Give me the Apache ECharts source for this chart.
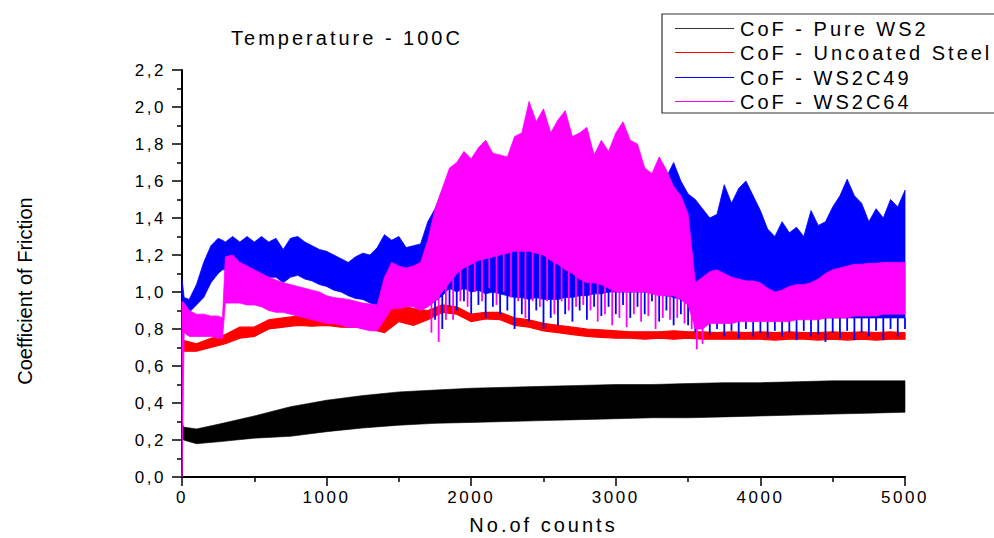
<!DOCTYPE html>
<html>
<head>
<meta charset="utf-8">
<script src="https://cdn.jsdelivr.net/npm/echarts/dist/echarts.min.js"></script>
<style>
  html, body { margin: 0; padding: 0; background: #fff; }
  #chart { width: 994px; height: 538px; }
  #chart svg text { letter-spacing: 0.15em; }
  #chart svg text[style*="sans-serif"] { letter-spacing: 0; }
</style>
</head>
<body>
<div id="chart"></div>
<script>
// ---------- data ----------
const seriesNames = ['CoF - Pure WS2', 'CoF - Uncoated Steel', 'CoF - WS2C49', 'CoF - WS2C64'];

const blackCounts = [0, 10, 100, 250, 500, 750, 1000, 1250, 1500, 1750, 2000, 2250, 2500, 2750, 3000, 3250, 3500, 3750, 4000, 4250, 4500, 4750, 5000];
const blackHi = [0.31, 0.27, 0.26, 0.285, 0.33, 0.38, 0.415, 0.44, 0.46, 0.47, 0.48, 0.485, 0.49, 0.495, 0.50, 0.50, 0.505, 0.51, 0.51, 0.515, 0.52, 0.52, 0.52];
const blackLo = [0.21, 0.20, 0.18, 0.19, 0.21, 0.22, 0.245, 0.265, 0.28, 0.29, 0.295, 0.30, 0.305, 0.31, 0.315, 0.32, 0.32, 0.325, 0.33, 0.335, 0.34, 0.345, 0.35];

const redCounts = [0, 100, 200, 300, 400, 500, 600, 700, 800, 900,
  1000, 1100, 1200, 1300, 1400, 1500, 1600, 1700, 1800, 1900,
  2000, 2100, 2200, 2300, 2400, 2500, 2600, 2700, 2800, 2900,
  3000, 3100, 3200, 3300, 3400, 3500, 3600, 3700, 3800, 3900,
  4000, 4100, 4200, 4300, 4400, 4500, 4600, 4700, 4800, 4900, 5000];
const redHi = [0.74, 0.72, 0.75, 0.77, 0.81, 0.81, 0.85, 0.86, 0.87, 0.86,
  0.85, 0.84, 0.84, 0.83, 0.90, 0.93, 0.91, 0.90, 0.93, 0.92,
  0.88, 0.89, 0.89, 0.86, 0.85, 0.83, 0.82, 0.81, 0.80, 0.795,
  0.79, 0.785, 0.785, 0.785, 0.79, 0.785, 0.785, 0.78, 0.785, 0.78,
  0.785, 0.78, 0.785, 0.78, 0.78, 0.785, 0.78, 0.785, 0.78, 0.785, 0.78];
const redLo = [0.68, 0.68, 0.70, 0.72, 0.75, 0.76, 0.80, 0.81, 0.82, 0.815,
  0.82, 0.81, 0.81, 0.80, 0.78, 0.84, 0.82, 0.85, 0.89, 0.88,
  0.84, 0.855, 0.85, 0.82, 0.81, 0.79, 0.78, 0.77, 0.76, 0.755,
  0.75, 0.75, 0.745, 0.75, 0.745, 0.75, 0.745, 0.745, 0.745, 0.745,
  0.745, 0.74, 0.745, 0.745, 0.74, 0.745, 0.74, 0.745, 0.74, 0.745, 0.745];

const fineCounts = [0, 15, 50, 100, 150, 200, 250, 280, 300, 350,
  400, 450, 500, 550, 600, 650, 700, 750, 800, 850,
  900, 950, 1000, 1050, 1100, 1150, 1200, 1250, 1300, 1350,
  1400, 1450, 1500, 1550, 1600, 1650, 1700, 1750, 1800, 1850,
  1900, 1950, 2000, 2050, 2100, 2150, 2200, 2250, 2300, 2350,
  2400, 2450, 2500, 2550, 2600, 2650, 2700, 2750, 2800, 2850,
  2900, 2950, 3000, 3050, 3100, 3150, 3200, 3250, 3300, 3350,
  3400, 3450, 3500, 3550, 3600, 3650, 3700, 3750, 3800, 3850,
  3900, 3950, 4000, 4050, 4100, 4150, 4200, 4250, 4300, 4350,
  4400, 4450, 4500, 4550, 4600, 4650, 4700, 4750, 4800, 4850,
  4900, 4950, 5000];

// WS2C49: upper edge and lower (solid) edge of the band
const blueHi = [1.07, 0.97, 0.96, 1.04, 1.16, 1.25, 1.29, 1.28, 1.27, 1.30,
  1.27, 1.30, 1.27, 1.30, 1.27, 1.29, 1.23, 1.29, 1.30, 1.27,
  1.25, 1.23, 1.22, 1.20, 1.18, 1.16, 1.19, 1.21, 1.20, 1.24,
  1.31, 1.28, 1.30, 1.24, 1.25, 1.26, 1.38, 1.45, 1.55, 1.58,
  1.55, 1.52, 1.55, 1.50, 1.55, 1.52, 1.50, 1.55, 1.52, 1.55,
  1.50, 1.55, 1.52, 1.55, 1.50, 1.55, 1.52, 1.55, 1.50, 1.55,
  1.52, 1.55, 1.50, 1.55, 1.52, 1.55, 1.52, 1.55, 1.56, 1.62,
  1.70, 1.60, 1.53, 1.50, 1.45, 1.40, 1.42, 1.58, 1.48, 1.56,
  1.60, 1.52, 1.44, 1.34, 1.30, 1.38, 1.32, 1.35, 1.30, 1.44,
  1.36, 1.38, 1.46, 1.52, 1.61, 1.52, 1.48, 1.38, 1.45, 1.40,
  1.50, 1.46, 1.55];
const blueLo = [0.60, 0.90, 0.89, 0.93, 0.97, 1.05, 1.10, 1.12, 1.12, 1.13,
  1.12, 1.12, 1.10, 1.10, 1.08, 1.08, 1.05, 1.08, 1.09, 1.07,
  1.06, 1.04, 1.03, 1.01, 1.00, 0.98, 0.965, 0.96, 0.94, 0.93,
  1.05, 1.05, 1.05, 1.05, 1.05, 1.05, 0.97, 0.95, 0.98, 1.02,
  1.00, 1.02, 1.00, 1.01, 0.99, 1.00, 0.99, 0.98, 0.97, 0.97,
  0.96, 0.97, 0.96, 0.96, 0.96, 0.97, 0.97, 0.98, 0.98, 0.99,
  0.99, 1.00, 1.00, 1.00, 1.00, 1.00, 1.00, 1.00, 0.99, 0.98,
  0.97, 0.96, 0.93, 0.88, 0.86, 0.86, 0.86, 0.86, 0.86, 0.86,
  0.86, 0.86, 0.86, 0.86, 0.86, 0.86, 0.86, 0.86, 0.86, 0.86,
  0.86, 0.86, 0.86, 0.86, 0.86, 0.86, 0.86, 0.86, 0.86, 0.86,
  0.86, 0.86, 0.86];
// WS2C49: tips of the downward spikes
const blueSpikeCounts = [1700, 1750, 1800, 1850, 1900, 1950, 2000, 2050, 2100, 2150,
  2200, 2250, 2300, 2350, 2400, 2450, 2500, 2550, 2600, 2650,
  2700, 2750, 2800, 2850, 2900, 2950, 3000, 3050, 3100, 3150,
  3200, 3250, 3300, 3350, 3400, 3450, 3500, 3550, 3600, 3650,
  3700, 3750, 3800, 3850, 3900, 3950, 4000, 4050, 4100, 4150,
  4200, 4250, 4300, 4350, 4400, 4450, 4500, 4550, 4600, 4650,
  4700, 4750, 4800, 4850, 4900, 4950, 5000];
const blueSpikeLo = [0.93, 0.85, 0.80, 0.92, 0.90, 0.95, 0.88, 0.93, 0.86, 0.92,
  0.88, 0.90, 0.80, 0.88, 0.84, 0.90, 0.80, 0.86, 0.82, 0.88,
  0.84, 0.90, 0.85, 0.92, 0.87, 0.92, 0.88, 0.93, 0.86, 0.92,
  0.88, 0.95, 0.84, 0.90, 0.82, 0.88, 0.82, 0.78, 0.80, 0.77,
  0.80, 0.76, 0.79, 0.75, 0.80, 0.76, 0.78, 0.75, 0.79, 0.76,
  0.78, 0.74, 0.79, 0.76, 0.77, 0.73, 0.78, 0.75, 0.79, 0.74,
  0.78, 0.76, 0.79, 0.74, 0.80, 0.76, 0.80];

// WS2C64: upper edge and lower (solid) edge of the band
const magentaHi = [0.95, 0.94, 0.90, 0.88, 0.88, 0.87, 0.87, 0.86, 1.19, 1.20,
  1.16, 1.14, 1.12, 1.10, 1.08, 1.065, 1.05, 1.04, 1.03, 1.02,
  1.01, 1.00, 0.98, 0.97, 0.965, 0.96, 0.95, 0.94, 0.935, 0.93,
  1.08, 1.16, 1.14, 1.13, 1.14, 1.16, 1.28, 1.45, 1.56, 1.67,
  1.70, 1.76, 1.72, 1.78, 1.82, 1.75, 1.74, 1.73, 1.84, 1.86,
  2.03, 1.92, 1.99, 1.86, 1.93, 1.98, 1.84, 1.86, 1.89, 1.74,
  1.82, 1.76, 1.86, 1.92, 1.82, 1.80, 1.67, 1.64, 1.73, 1.66,
  1.57, 1.52, 1.42, 1.05, 1.08, 1.11, 1.12, 1.10, 1.08, 1.07,
  1.06, 1.06, 1.05, 1.02, 1.00, 1.01, 1.03, 1.04, 1.04, 1.05,
  1.07, 1.10, 1.12, 1.13, 1.14, 1.15, 1.15, 1.155, 1.155, 1.16,
  1.16, 1.16, 1.16];
const magentaLo = [0.00, 0.78, 0.76, 0.76, 0.76, 0.76, 0.75, 0.75, 0.94, 0.94,
  0.94, 0.93, 0.93, 0.92, 0.90, 0.89, 0.89, 0.88, 0.87, 0.86,
  0.85, 0.84, 0.83, 0.83, 0.82, 0.81, 0.81, 0.80, 0.79, 0.79,
  0.85, 0.91, 0.91, 0.92, 0.92, 0.90, 0.92, 0.95, 1.00, 1.05,
  1.10, 1.13, 1.15, 1.17, 1.18, 1.19, 1.20, 1.21, 1.22, 1.22,
  1.22, 1.21, 1.20, 1.17, 1.15, 1.12, 1.10, 1.07, 1.05, 1.05,
  1.04, 1.02, 1.00, 1.00, 1.00, 1.00, 1.00, 0.99, 0.98, 0.98,
  0.98, 0.96, 0.93, 0.80, 0.80, 0.83, 0.83, 0.83, 0.83, 0.84,
  0.84, 0.84, 0.84, 0.84, 0.84, 0.84, 0.84, 0.85, 0.85, 0.85,
  0.85, 0.86, 0.86, 0.86, 0.86, 0.87, 0.87, 0.87, 0.87, 0.88,
  0.88, 0.88, 0.88];
// WS2C64: tips of the downward spikes
const magentaSpikeCounts = [1725, 1775, 1825, 1875, 1925, 1975, 2025, 2075, 2125, 2175,
  2225, 2275, 2325, 2375, 2425, 2475, 2525, 2575, 2625, 2675,
  2725, 2775, 2825, 2875, 2925, 2975, 3025, 3075, 3125, 3175,
  3225, 3275, 3325, 3375, 3425, 3475, 3525, 3560, 3600];
const magentaSpikeLo = [0.78, 0.73, 0.85, 0.85, 0.95, 0.92, 1.00, 0.95, 1.02, 0.93,
  1.00, 0.97, 0.95, 0.86, 0.95, 0.92, 0.95, 0.88, 0.95, 0.90,
  0.92, 0.93, 0.90, 0.84, 0.88, 0.82, 0.86, 0.81, 0.88, 0.84,
  0.87, 0.80, 0.86, 0.85, 0.86, 0.83, 0.80, 0.69, 0.72];

const yTickValues = [0, 0.2, 0.4, 0.6, 0.8, 1.0, 1.2, 1.4, 1.6, 1.8, 2.0, 2.2];
const xTickValues = [0, 1000, 2000, 3000, 4000, 5000];

// ---------- chart ----------
const FONT = "'Liberation Sans', Arimo";
const colors = ['#000000', '#ff0000', '#0000ff', '#ff00ff'];

function band(name, color, xs, hi, lo, strokeW, spikeXs, spikeLo) {
  return {
    type: 'custom',
    name: name,
    coordinateSystem: 'cartesian2d',
    itemStyle: { color: color, borderWidth: 0 },
    data: [[xs[0], lo[0]]],
    encode: { x: 0, y: 1 },
    silent: true,
    renderItem: function (params, api) {
      const pts = [];
      for (let i = 0; i < xs.length; i++) pts.push(api.coord([xs[i], hi[i]]));
      for (let i = xs.length - 1; i >= 0; i--) pts.push(api.coord([xs[i], lo[i]]));
      const children = [{
        type: 'polygon',
        shape: { points: pts },
        style: { fill: color, stroke: color, lineWidth: strokeW }
      }];
      if (spikeXs) {
        for (let k = 0; k < spikeXs.length; k++) {
          const sx = spikeXs[k];
          let i = 0;
          while (i < xs.length - 2 && xs[i + 1] <= sx) i++;
          const base = Math.max(lo[i], lo[i + 1]);
          const p1 = api.coord([sx, spikeLo[k]]);
          const p2 = api.coord([sx, base]);
          children.push({
            type: 'line',
            shape: { x1: p1[0], y1: p1[1], x2: p2[0], y2: p2[1] },
            style: { stroke: color, lineWidth: 1.8 }
          });
        }
      }
      return { type: 'group', children: children };
    }
  };
}

// legend box drawn as graphics: frame, thin sample lines, labels
const LEG_LEFT = 662, LEG_TOP = 14, LEG_ROW = 24.4, LEG_FIRST = 28;
const legendGraphics = [{
  type: 'rect', silent: true, z: 100,
  shape: { x: LEG_LEFT, y: LEG_TOP, width: 400, height: 99 },
  style: { fill: '#ffffff', stroke: '#333333', lineWidth: 1.2 }
}];
seriesNames.forEach(function (n, i) {
  const y = Math.round(LEG_FIRST + i * LEG_ROW);
  legendGraphics.push({
    type: 'rect', silent: true, z: 101,
    shape: { x: LEG_LEFT + 13, y: y, width: 59, height: 1 },
    style: { fill: i === 0 ? '#333333' : colors[i], stroke: null, lineWidth: 0 }
  });
  legendGraphics.push({
    type: 'text', silent: true, z: 101, x: LEG_LEFT + 78, y: y + 0.5,
    style: { text: n, fontFamily: FONT, fontSize: 20, fill: '#000',
      textAlign: 'left', textVerticalAlign: 'middle' }
  });
});

const chart = echarts.init(document.getElementById('chart'), null, { renderer: 'svg' });
chart.setOption({
  animation: false,
  backgroundColor: '#ffffff',
  grid: { left: 182, right: 89, top: 70, bottom: 61, containLabel: false, outerBoundsMode: 'none' },
  legend: { show: false, data: seriesNames },
  xAxis: {
    type: 'value',
    min: 0, max: 5000, interval: 1000,
    name: 'No.of counts',
    nameLocation: 'middle',
    nameGap: 38,
    nameTextStyle: { fontFamily: FONT, fontSize: 20, color: '#000' },
    axisLine: { show: true, onZero: false, lineStyle: { color: '#000', width: 2 } },
    axisTick: { show: true, inside: false, length: 9, lineStyle: { color: '#000', width: 1.5 } },
    minorTick: { show: true, splitNumber: 2, length: 5, lineStyle: { color: '#000', width: 1.5 } },
    splitLine: { show: false },
    axisLabel: { fontFamily: FONT, fontSize: 17, color: '#000', margin: 12,
      formatter: function (v) { return xTickValues.indexOf(v) >= 0 ? String(v) : ''; } }
  },
  yAxis: {
    type: 'value',
    min: 0, max: 2.2, interval: 0.2,
    axisLine: { show: true, onZero: false, lineStyle: { color: '#000', width: 2 } },
    axisTick: { show: true, inside: false, length: 10, lineStyle: { color: '#000', width: 1.5 } },
    minorTick: { show: true, splitNumber: 2, length: 5, lineStyle: { color: '#000', width: 1.5 } },
    splitLine: { show: false },
    axisLabel: { fontFamily: FONT, fontSize: 17, color: '#000', margin: 16,
      formatter: function (v) {
        const t = yTickValues.find(function (u) { return Math.abs(u - v) < 1e-6; });
        return t === undefined ? '' : t.toFixed(1).replace('.', ',');
      } }
  },
  graphic: [
    { type: 'text', x: 347, y: 38, silent: true,
      style: { text: 'Temperature - 100C', fontFamily: FONT, fontSize: 20, fill: '#000',
        textAlign: 'center', textVerticalAlign: 'middle' } },
    { type: 'text', x: 25, y: 291, rotation: Math.PI / 2, silent: true,
      style: { text: 'Coefficient of Friction', fontFamily: "'Liberation Sans', sans-serif", fontSize: 20, fill: '#000',
        textAlign: 'center', textVerticalAlign: 'middle' } }
  ].concat(legendGraphics),
  series: [
    band(seriesNames[0], colors[0], blackCounts, blackHi, blackLo, 0.6),
    band(seriesNames[1], colors[1], redCounts, redHi, redLo, 1.2),
    band(seriesNames[2], colors[2], fineCounts, blueHi, blueLo, 0.8, blueSpikeCounts, blueSpikeLo),
    band(seriesNames[3], colors[3], fineCounts, magentaHi, magentaLo, 0.8, magentaSpikeCounts, magentaSpikeLo)
  ]
});
</script>
</body>
</html>
